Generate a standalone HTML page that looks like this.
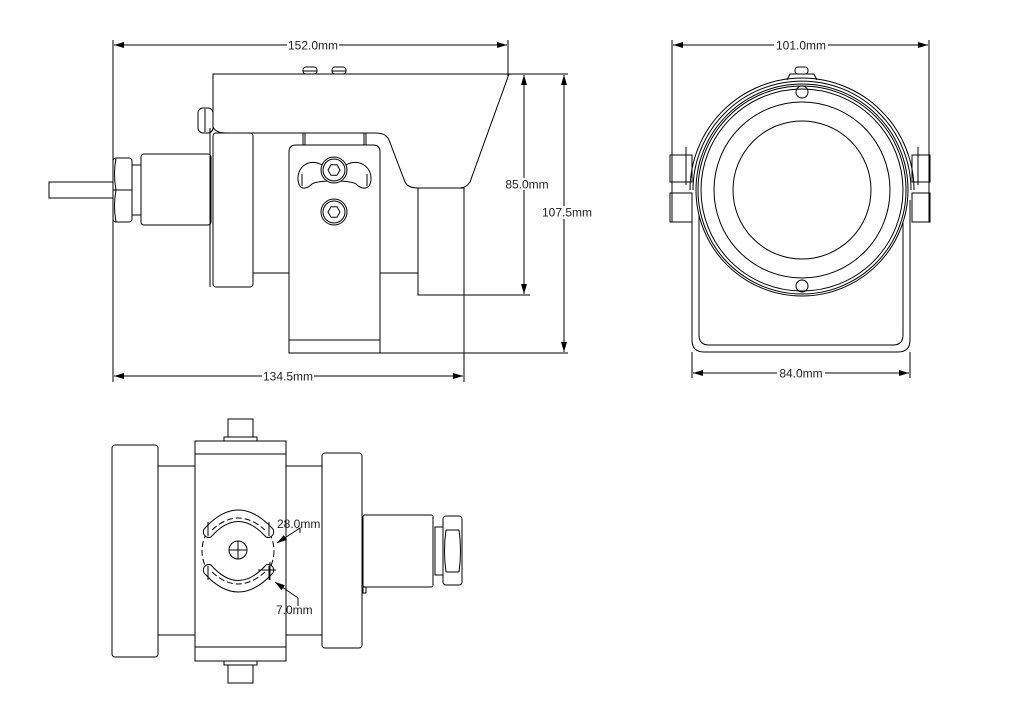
<!DOCTYPE html>
<html><head><meta charset="utf-8"><style>
html,body{margin:0;padding:0;background:#fff}
svg{display:block}
text{font-family:"Liberation Sans",sans-serif;font-size:12px;fill:#222}
</style></head><body>
<svg width="1019" height="719" viewBox="0 0 1019 719" xmlns="http://www.w3.org/2000/svg">
<defs>
<marker id="a" viewBox="0 0 10 6" refX="10" refY="3" markerWidth="10" markerHeight="6" orient="auto-start-reverse" markerUnits="userSpaceOnUse"><path d="M0,0 L10,3 L0,6 Z" fill="#000"/></marker>
</defs>
<g fill="none" stroke="#000" stroke-width="1">
<line x1="113" y1="40" x2="113" y2="382"/>
<line x1="508" y1="40" x2="508" y2="76"/>
<line x1="114" y1="45" x2="507" y2="45" marker-start="url(#a)" marker-end="url(#a)"/>
<line x1="464" y1="188" x2="464" y2="382"/>
<line x1="114" y1="376" x2="463" y2="376" marker-start="url(#a)" marker-end="url(#a)"/>
<line x1="509" y1="74" x2="568" y2="74"/>
<line x1="418" y1="295" x2="530" y2="295"/>
<line x1="357" y1="353" x2="568" y2="353"/>
<line x1="524" y1="75" x2="524" y2="294" marker-start="url(#a)" marker-end="url(#a)"/>
<line x1="564" y1="75" x2="564" y2="352" marker-start="url(#a)" marker-end="url(#a)"/>
<path d="M213,127 L213,74 L509,74 L470,182 Q466,188 460,188 L418,188 Q408,188 405,182 L389,140 Q386,133 376,133 L226,133 Q216,133 213,127" />
<rect x="303" y="67" width="14" height="7" rx="3"/>
<rect x="332" y="67" width="14" height="7" rx="3"/>
<line x1="303" y1="71" x2="317" y2="71"/><line x1="332" y1="71" x2="346" y2="71"/>
<rect x="198" y="108" width="15" height="25" rx="5"/>
<line x1="205" y1="109" x2="205" y2="132"/>
<rect x="418" y="188" width="46" height="107"/>
<line x1="210" y1="128" x2="210" y2="287"/>
<rect x="213" y="133" width="40" height="154" rx="3"/>
<line x1="253" y1="273" x2="289" y2="273"/>
<line x1="380" y1="273" x2="418" y2="273"/>
<line x1="253" y1="137" x2="253" y2="273"/>
<line x1="303" y1="133" x2="303" y2="145"/><line x1="305" y1="133" x2="305" y2="145"/>
<line x1="364" y1="133" x2="364" y2="145"/><line x1="366" y1="133" x2="366" y2="145"/>
<path d="M289,353 L289,152 Q289,145 296,145 L373,145 Q380,145 380,152 L380,353 Z"/>
<line x1="289" y1="340" x2="380" y2="340"/>
<path d="M322,165 C310,158 297,166 298,180 C299,190 306,190 312,184 C318,180 350,180 356,184 C362,190 370,190 371,180 C372,166 358,158 346,165 Z"/>
<line x1="302" y1="174" x2="302" y2="186"/><line x1="367" y1="174" x2="367" y2="186"/>
<circle cx="334" cy="170" r="13" fill="#fff"/><circle cx="334" cy="170" r="11"/>
<polygon points="340,170 337,175.2 331,175.2 328,170 331,164.8 337,164.8"/>
<circle cx="334" cy="212" r="13"/><circle cx="334" cy="212" r="11"/>
<polygon points="340,212 337,217.2 331,217.2 328,212 331,206.8 337,206.8"/>
<rect x="141" y="154" width="70" height="71" rx="3"/>
<rect x="132" y="165" width="9" height="50"/>
<rect x="113" y="158" width="19" height="64" rx="3"/>
<line x1="113" y1="190" x2="132" y2="190"/>
<path d="M116,158 Q113,174 116,190 M116,190 Q113,206 116,222"/>
<rect x="49" y="182" width="64" height="16"/>

<line x1="672" y1="40" x2="672" y2="222"/>
<line x1="929" y1="40" x2="929" y2="222"/>
<line x1="673" y1="45" x2="928" y2="45" marker-start="url(#a)" marker-end="url(#a)"/>
<line x1="692" y1="352" x2="692" y2="378"/>
<line x1="910" y1="352" x2="910" y2="378"/>
<line x1="693" y1="373" x2="909" y2="373" marker-start="url(#a)" marker-end="url(#a)"/>
<path d="M692,200 L692,340 Q692,352 704,352 L898,352 Q910,352 910,340 L910,200"/>
<path d="M699,210 L699,335 Q699,345 709,345 L893,345 Q903,345 903,335 L903,210"/>
<path d="M690,190 A112,112 0 0 1 914,190" />
<path d="M693,190 A109,109 0 0 1 911,190" />
<rect x="670" y="155" width="22" height="27"/>
<rect x="670" y="193" width="22" height="29"/>
<rect x="912" y="155" width="18" height="27"/>
<rect x="912" y="193" width="18" height="29"/>
<line x1="686" y1="147" x2="686" y2="185"/>
<line x1="918" y1="147" x2="918" y2="185"/>
<circle cx="802" cy="190" r="106" fill="#fff"/>
<circle cx="802" cy="190" r="104"/>
<circle cx="802" cy="190" r="101"/>
<circle cx="802" cy="190" r="88"/>
<circle cx="802" cy="190" r="69"/>
<circle cx="802" cy="92" r="6"/>
<circle cx="802" cy="286" r="6"/>
<path d="M787,80 L790,74 L814,74 L817,80"/>
<rect x="795" y="67" width="13" height="7" rx="3"/>

<rect x="112" y="445" width="46" height="212" rx="3"/>
<line x1="158" y1="466" x2="195" y2="466"/><line x1="158" y1="635" x2="195" y2="635"/>
<rect x="195" y="441" width="91" height="220"/>
<line x1="195" y1="454" x2="286" y2="454"/><line x1="195" y1="647" x2="286" y2="647"/>
<rect x="228" y="419" width="25" height="18"/>
<rect x="224" y="437" width="33" height="4"/>
<rect x="228" y="665" width="25" height="18"/>
<rect x="224" y="661" width="33" height="4"/>
<line x1="286" y1="466" x2="322" y2="466"/><line x1="286" y1="635" x2="322" y2="635"/>
<rect x="322" y="453" width="40" height="195" rx="3"/>
<rect x="363" y="515" width="70" height="72" rx="2"/>
<rect x="363" y="587" width="3" height="6"/>
<rect x="435" y="527" width="8" height="48"/>
<rect x="443" y="516" width="19" height="69" rx="3"/>
<line x1="446" y1="530" x2="459" y2="530"/><line x1="446" y1="572" x2="459" y2="572"/>
<path d="M446,530 Q443,551 446,572 M459,530 Q462,551 459,572"/>
<circle cx="238" cy="551" r="36" stroke-dasharray="6,3"/>
<path d="M205,528 Q238,492 272,528 A5.5,5.5 0 0 1 266,537 Q238,506 211,537 A5.5,5.5 0 0 1 205,528 Z" fill="#fff"/>
<path d="M205,574 Q238,610 272,574 A5.5,5.5 0 0 0 266,565 Q238,596 211,565 A5.5,5.5 0 0 0 205,574 Z" fill="#fff"/>
<path d="M212,530 Q238,506 265,530" stroke-dasharray="6,3"/>
<path d="M212,572 Q238,596 265,572" stroke-dasharray="6,3"/>
<line x1="208" y1="522" x2="208" y2="536"/><line x1="269" y1="522" x2="269" y2="536"/>
<line x1="208" y1="566" x2="208" y2="580"/><line x1="269" y1="566" x2="269" y2="580"/>
<circle cx="238" cy="550" r="9"/>
<line x1="229" y1="550" x2="247" y2="550"/><line x1="238" y1="541" x2="238" y2="559"/>
<line x1="258" y1="570" x2="276" y2="570"/><line x1="270" y1="562" x2="270" y2="580"/>
<polyline points="300,533 300,528 277,543" marker-end="url(#a)"/>
<polyline points="298,606 298,598 275,582" marker-end="url(#a)"/>
</g>
<g>
<rect x="287" y="39" width="52" height="12" fill="#fff"/>
<text x="313" y="49.5" text-anchor="middle">152.0mm</text>
<rect x="262" y="370" width="52" height="12" fill="#fff"/>
<text x="288" y="380.5" text-anchor="middle">134.5mm</text>
<rect x="503" y="178" width="48" height="12" fill="#fff"/>
<text x="527" y="188.5" text-anchor="middle">85.0mm</text>
<rect x="540" y="206" width="54" height="13" fill="#fff"/>
<text x="567" y="216.5" text-anchor="middle">107.5mm</text>
<rect x="774" y="39" width="54" height="12" fill="#fff"/>
<text x="801" y="49.5" text-anchor="middle">101.0mm</text>
<rect x="777" y="367" width="48" height="12" fill="#fff"/>
<text x="801" y="377.5" text-anchor="middle">84.0mm</text>
<text x="277" y="528">28.0mm</text>
<text x="276" y="614">7.0mm</text>
</g>
</svg>
</body></html>
